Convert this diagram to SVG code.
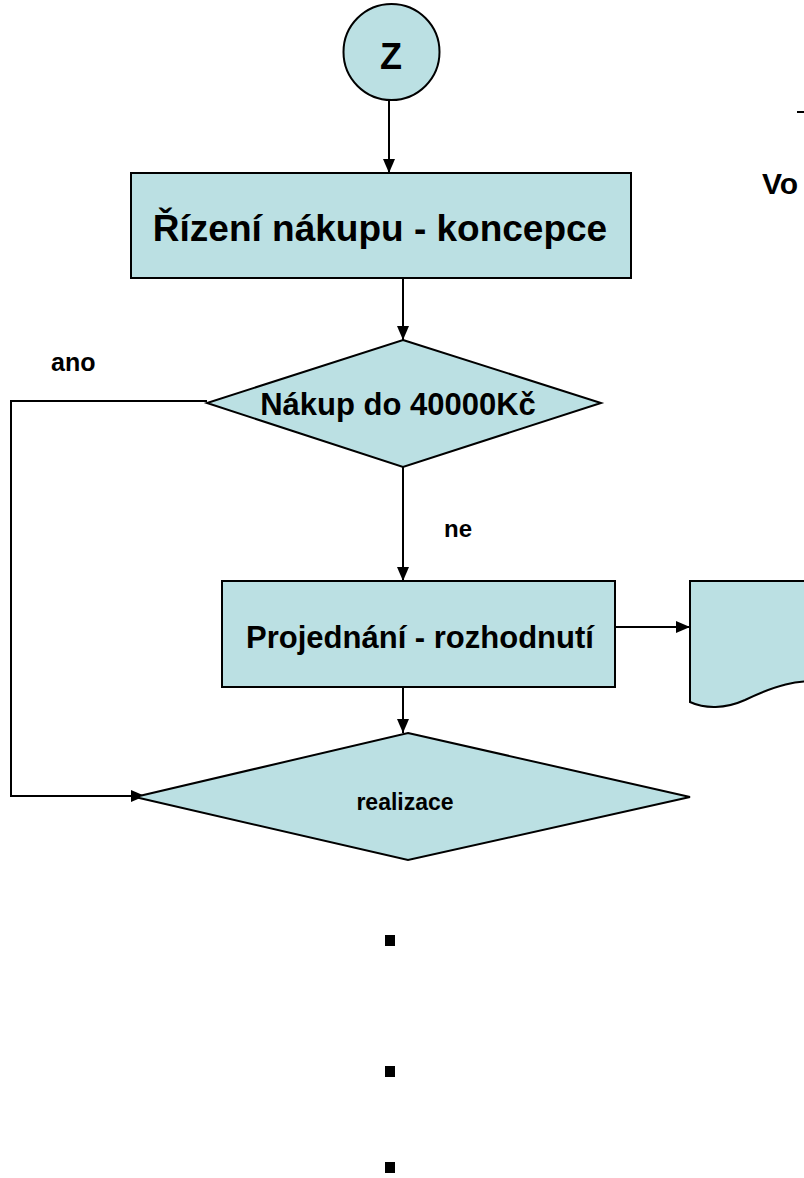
<svg xmlns="http://www.w3.org/2000/svg" width="804" height="1178" viewBox="0 0 804 1178">
<style>
.shape{fill:#bbe0e3;stroke:#000;stroke-width:2}
.line{fill:none;stroke:#000;stroke-width:2}
.t{font-family:"Liberation Sans",Arial,sans-serif;font-weight:bold;fill:#000}
.c{text-anchor:middle}
</style>
<defs>
<marker id="arr" viewBox="0 0 14 12" refX="14" refY="6" markerWidth="14" markerHeight="12" markerUnits="userSpaceOnUse" orient="auto">
<path d="M0,0 L14,6 L0,12 Z" fill="#000"/>
</marker>
</defs>
<rect width="804" height="1178" fill="#fff"/>
<g id="connectors">
<line class="line" x1="389" y1="100" x2="389" y2="173" marker-end="url(#arr)"/>
<line class="line" x1="403" y1="278" x2="403" y2="340" marker-end="url(#arr)"/>
<polyline class="line" points="207,401 11,401 11,796 145,796" marker-end="url(#arr)"/>
<line class="line" x1="403" y1="467" x2="403" y2="581" marker-end="url(#arr)"/>
<line class="line" x1="615" y1="627" x2="690" y2="627" marker-end="url(#arr)"/>
<line class="line" x1="403" y1="687" x2="403" y2="733" marker-end="url(#arr)"/>
</g>
<g id="node-z">
<circle class="shape" cx="391.5" cy="52" r="48"/>
<text class="t c" x="391" y="69" font-size="36">Z</text>
</g>
<g id="node-koncepce">
<rect class="shape" x="131" y="173" width="500" height="105"/>
<text class="t c" x="380" y="241" font-size="37">Řízení nákupu - koncepce</text>
</g>
<g id="node-nakup">
<polygon class="shape" points="403,340 601,403 403,467 207,403"/>
<text class="t c" x="398" y="415" font-size="31">Nákup do 40000Kč</text>
</g>
<g id="node-projednani">
<rect class="shape" x="222" y="581" width="393" height="106"/>
<text class="t c" x="420" y="648" font-size="31">Projednání - rozhodnutí</text>
</g>
<g id="node-dokument">
<path class="shape" d="M690,581 H830 V684 C800,676 770,688 745,700 C725,709 705,709 690,702 Z"/>
</g>
<g id="node-realizace">
<polygon class="shape" points="408,733 690,797 408,860 135,797"/>
<text class="t c" x="405" y="810" font-size="23">realizace</text>
</g>
<g id="labels">
<text class="t" x="51" y="371" font-size="25">ano</text>
<text class="t" x="444" y="537" font-size="24">ne</text>
<text class="t" x="762" y="194" font-size="30">Vo</text>
<line x1="797" y1="112" x2="804" y2="112" stroke="#000" stroke-width="2"/>
</g>
<g id="bullets">
<rect x="385" y="935" width="10" height="11" fill="#000"/>
<rect x="385" y="1066" width="10" height="11" fill="#000"/>
<rect x="385" y="1162" width="10" height="11" fill="#000"/>
</g>
</svg>
